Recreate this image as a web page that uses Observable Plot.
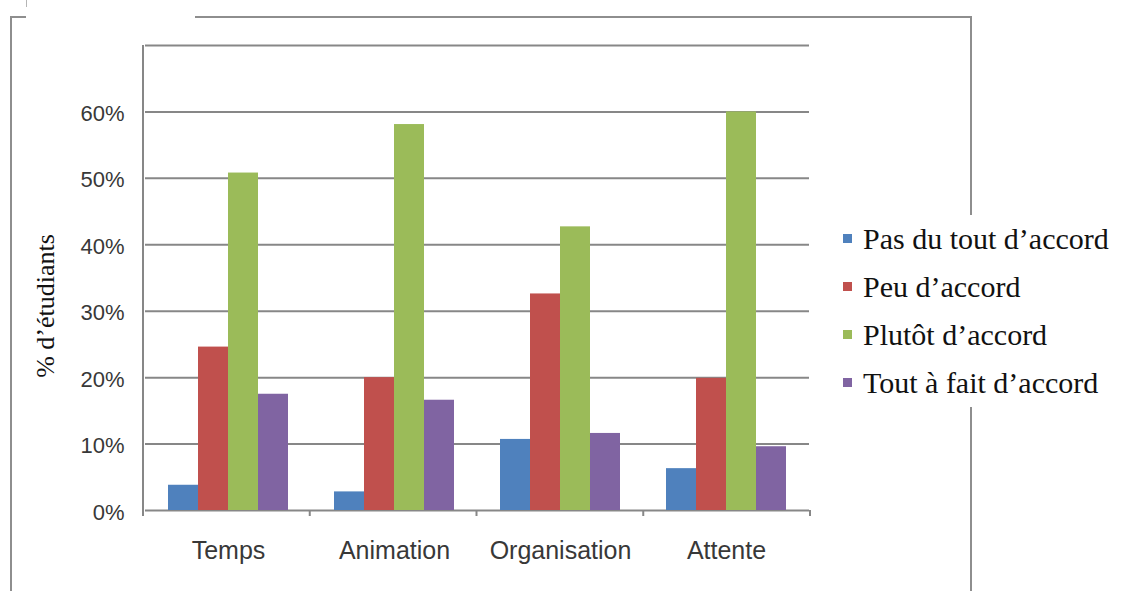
<!DOCTYPE html>
<html>
<head>
<meta charset="utf-8">
<script src="https://cdn.jsdelivr.net/npm/d3@7"></script>
<script src="https://cdn.jsdelivr.net/npm/@observablehq/plot@0.6"></script>
<style>
  html, body { margin: 0; padding: 0; background: #fff; }
  #wrap { position: relative; width: 1123px; height: 591px; overflow: hidden; background: #fff; }
  #chart { position: absolute; left: 0; top: 0; }
  .edge { position: absolute; background: #8e8e8e; }
  #ylabel {
    position: absolute; left: 46px; top: 306px;
    transform: translate(-50%, -50%) rotate(-90deg);
    white-space: nowrap;
    font-family: "Liberation Serif", "Times New Roman", serif;
    font-size: 26px; color: #111;
  }
  #legend {
    position: absolute; left: 836px; top: 215px; width: 286px;
    background: #fff; padding: 0;
    font-family: "Liberation Serif", "Times New Roman", serif;
    font-size: 30px; color: #111;
  }
  .row { position: relative; height: 48px; line-height: 48px; white-space: nowrap; }
  .sw { position: absolute; left: 7px; top: 19px; width: 9px; height: 9px; }
  .lab { position: absolute; left: 27px; top: 0; }
</style>
</head>
<body>
<div id="wrap">
  <!-- outer frame -->
  <div class="edge" style="left:10px; top:16px; width:2px; height:580px;"></div>
  <div class="edge" style="left:10px; top:16px; width:16px; height:2px;"></div>
  <div class="edge" style="left:26px; top:0px; width:1px; height:7px; background:#b5b5b5;"></div>
  <div class="edge" style="left:195px; top:16px; width:777px; height:2px;"></div>
  <div class="edge" style="left:970px; top:16px; width:2px; height:580px;"></div>
  <div id="chart"></div>
  <div id="ylabel">% d’étudiants</div>
  <div id="legend"></div>
</div>
<script>
// Survey categories and answer levels
const categories = ["Temps", "Animation", "Organisation", "Attente"];
const series = ["Pas du tout d’accord", "Peu d’accord", "Plutôt d’accord", "Tout à fait d’accord"];
const colors = ["#4f81bd", "#c0504d", "#9bbb59", "#8064a2"];

// Share of students (%) per category, one array per answer level
const pasDuTout = [3.8, 2.8, 10.7, 6.3];
const peu       = [24.6, 20.0, 32.6, 19.9];
const plutot    = [50.8, 58.1, 42.7, 60.0];
const toutAFait = [17.5, 16.6, 11.6, 9.6];

// Axis ticks and gridlines
const yTicks = [0, 10, 20, 30, 40, 50, 60];
const gridValues = [0, 10, 20, 30, 40, 50, 60, 70];

const seriesValues = [pasDuTout, peu, plutot, toutAFait];
const rows = categories.flatMap((c, i) =>
  series.map((s, j) => ({category: c, series: s, value: seriesValues[j][i]}))
);

const plot = Plot.plot({
  width: 830,
  height: 591,
  marginLeft: 143,
  marginRight: 20,
  marginTop: 45,
  marginBottom: 81,
  style: {background: "transparent", overflow: "visible"},
  fx: {domain: categories, padding: 0, label: null},
  x: {domain: series, paddingInner: 0, paddingOuter: 0.76, axis: null},
  y: {domain: [0, 70], axis: null},
  color: {domain: series, range: colors},
  marks: [
    Plot.ruleY(gridValues, {stroke: "#878787", strokeWidth: 2}),
    Plot.barY(rows, {fx: "category", x: "series", y: "value", fill: "series"}),
    Plot.axisY(yTicks, {
      anchor: "left", tickSize: 0, tickPadding: 21, dy: 2,
      tickFormat: d => d + "%", label: null,
      fontSize: 22, fontFamily: "Liberation Sans, Arial, sans-serif", fill: "#383838"
    }),
    Plot.axisFx({
      anchor: "bottom", tickSize: 0, tickPadding: 31, label: null,
      fontSize: 25, fontFamily: "Liberation Sans, Arial, sans-serif", fill: "#383838"
    })
  ]
});
document.getElementById("chart").appendChild(plot);

// Left axis line and category boundary ticks, placed from the plot's own scales
const fx = plot.scale("fx");
const y = plot.scale("y");
const svg = d3.select(plot);
const x0 = fx.range[0];
const step = (fx.range[1] - fx.range[0]) / categories.length;
const yBottom = Math.max(...y.range), yTop = Math.min(...y.range);
const g = svg.append("g").attr("stroke", "#878787").attr("stroke-width", 2);
g.append("line").attr("x1", x0).attr("x2", x0).attr("y1", yTop).attr("y2", yBottom);
d3.range(categories.length + 1).forEach(i => {
  const xb = x0 + i * step;
  g.append("line").attr("x1", xb).attr("x2", xb).attr("y1", yBottom).attr("y2", yBottom + 6);
});

// Legend
const legend = d3.select("#legend");
series.forEach((s, i) => {
  const row = legend.append("div").attr("class", "row");
  row.append("div").attr("class", "sw").style("background", colors[i]);
  row.append("div").attr("class", "lab").text(s);
});
</script>
</body>
</html>
